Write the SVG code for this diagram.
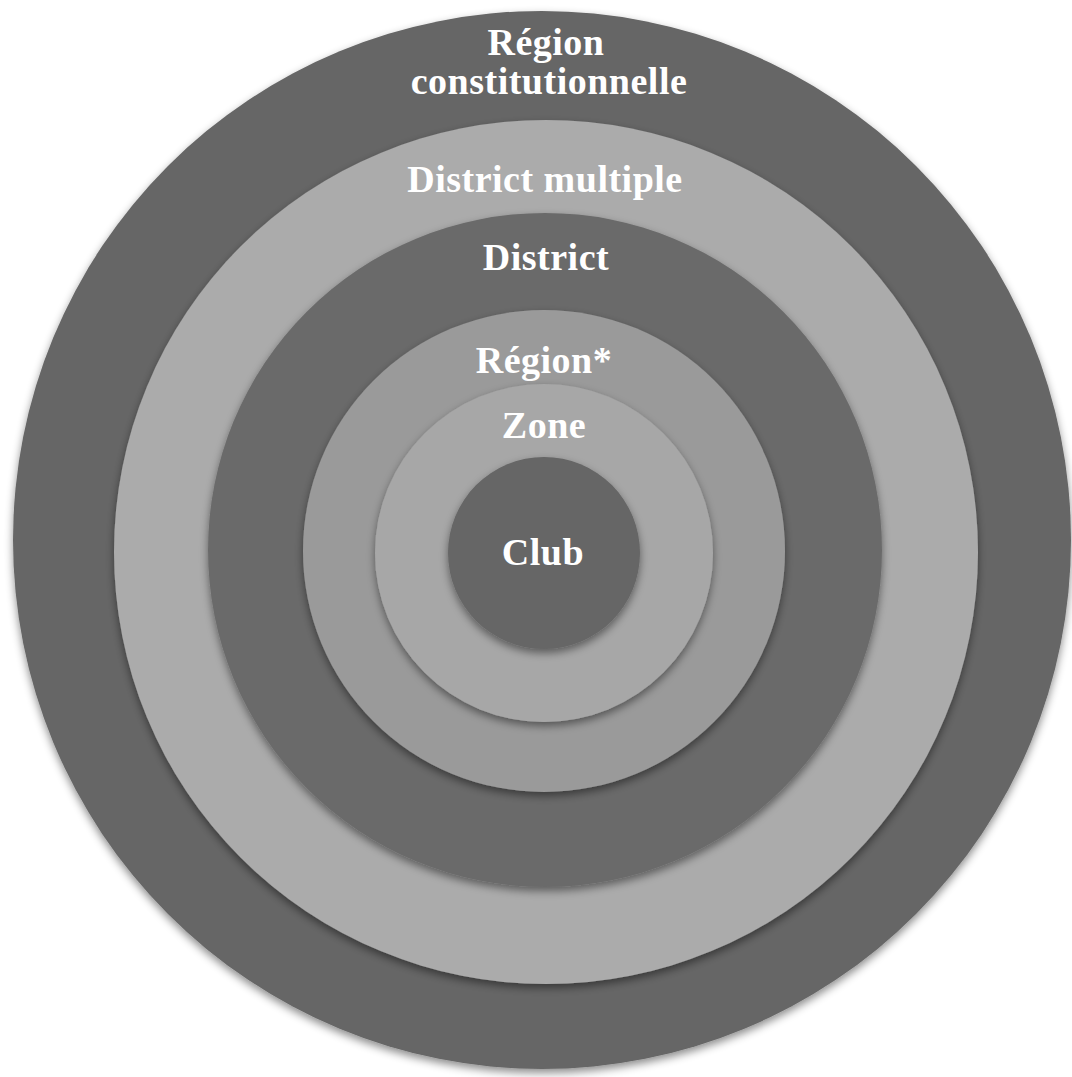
<svg xmlns="http://www.w3.org/2000/svg" width="1072" height="1077" viewBox="0 0 1072 1077">
<defs>
<filter id="sh" x="-10%" y="-10%" width="120%" height="125%">
<feDropShadow dx="0" dy="4" stdDeviation="4" flood-color="#000" flood-opacity="0.45"/>
</filter>
<style>
.lbl{font-family:"Liberation Serif","DejaVu Serif",serif;font-weight:bold;font-size:38px;letter-spacing:0.5px;fill:#ffffff;text-anchor:middle}
.dark{fill:#666666}
.dark2{fill:#6b6b6b}
.light{fill:#ababab}
.mid{fill:#9a9a9a}
.zone{fill:#a7a7a7}
</style>
</defs>
<rect width="1072" height="1077" fill="#ffffff"/>
<g id="region-constitutionnelle">
<circle class="dark" cx="542" cy="540" r="529" filter="url(#sh)"/>
<text class="lbl" x="546" y="55">Région</text>
<text class="lbl" x="549" y="94">constitutionnelle</text>
</g>
<g id="district-multiple">
<circle class="light" cx="546" cy="552" r="432" filter="url(#sh)"/>
<text class="lbl" x="545" y="192">District multiple</text>
</g>
<g id="district">
<circle class="dark2" cx="545" cy="550" r="337" filter="url(#sh)"/>
<text class="lbl" x="546" y="270">District</text>
</g>
<g id="region">
<circle class="mid" cx="544" cy="551" r="241" filter="url(#sh)"/>
<text class="lbl" x="544" y="373">Région*</text>
</g>
<g id="zone">
<circle class="zone" cx="544" cy="553" r="169" filter="url(#sh)"/>
<text class="lbl" x="544" y="438">Zone</text>
</g>
<g id="club">
<circle class="dark" cx="544" cy="553" r="96" filter="url(#sh)"/>
<text class="lbl" x="543" y="565">Club</text>
</g>
<g id="connectors"/>
</svg>
